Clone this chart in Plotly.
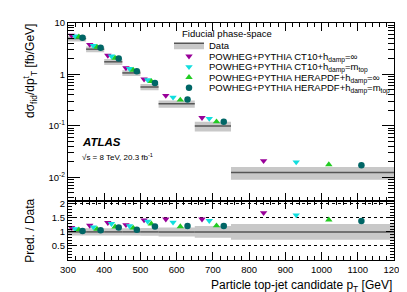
import plotly.graph_objects as go

# ---------------- data ----------------
bin_lo = [300, 350, 400, 450, 500, 550, 650, 750]
bin_hi = [350, 400, 450, 500, 550, 650, 750, 1200]
data = [5.0, 3.1, 1.76, 1.07, 0.57, 0.268, 0.099, 0.0124]
data_unc = [0.13, 0.13, 0.13, 0.13, 0.14, 0.16, 0.21, 0.28]  # relative

ct10_inf = [5.75, 3.81, 2.34, 1.34, 0.81, 0.389, 0.144, 0.0209]
ct10_mtop = [5.55, 3.63, 2.27, 1.29, 0.78, 0.359, 0.139, 0.0198]
hera_inf = [5.40, 3.41, 2.08, 1.22, 0.735, 0.319, 0.121, 0.0177]
hera_mtop = [5.15, 3.29, 2.04, 1.16, 0.68, 0.324, 0.120, 0.0172]

r_ct10_inf = [1.15, 1.23, 1.33, 1.25, 1.42, 1.45, 1.45, 1.68]
r_ct10_mtop = [1.11, 1.17, 1.29, 1.21, 1.37, 1.34, 1.40, 1.60]
r_hera_inf = [1.08, 1.10, 1.18, 1.14, 1.29, 1.19, 1.22, 1.43]
r_hera_mtop = [1.03, 1.06, 1.16, 1.08, 1.19, 1.21, 1.21, 1.39]

x_ticks = [300, 400, 500, 600, 700, 800, 900, 1000, 1100, 1200]
y_ticks = [0.01, 0.1, 1, 10]
y_ticktext = ["10<sup>-2</sup>", "10<sup>-1</sup>", "1", "10"]
r_ticks = [0.5, 1, 1.5, 2]
r_ticktext = ["0.5", "1", "1.5", "2"]

series = [
    ("POWHEG+PYTHIA CT10+h<sub>damp</sub>=∞", ct10_inf, r_ct10_inf, "triangle-down", "#990099", 0.2),
    ("POWHEG+PYTHIA CT10+h<sub>damp</sub>=m<sub>top</sub>", ct10_mtop, r_ct10_mtop, "triangle-down", "#11dede", 0.4),
    ("POWHEG+PYTHIA HERAPDF+h<sub>damp</sub>=∞", hera_inf, r_hera_inf, "triangle-up", "#22cc22", 0.6),
    ("POWHEG+PYTHIA HERAPDF+h<sub>damp</sub>=m<sub>top</sub>", hera_mtop, r_hera_mtop, "circle", "#006666", 0.8),
]

FONT = "Liberation Sans, Arial, sans-serif"
BAND = "#c8c8c8"
LINE = "#555555"

# geometry
W, H = 407, 292
ML, MR, MT, MB = 60, 21, 9, 40
PW, PH = W - ML - MR, H - MT - MB
split = 60.5 / PH


def px(x):
    return (x - ML) / PW


def py(y):
    return (H - MB - y) / PH


def band_xy(vals):
    xs, ys = [], []
    for lo, hi, v, u in zip(bin_lo, bin_hi, vals, data_unc):
        xs += [lo, hi, hi, lo, lo, None]
        ys += [v * (1 - u), v * (1 - u), v * (1 + u), v * (1 + u), v * (1 - u), None]
    return xs, ys


def line_xy(vals):
    xs, ys = [], []
    for lo, hi, v in zip(bin_lo, bin_hi, vals):
        xs += [lo, hi, None]
        ys += [v, v, None]
    return xs, ys


fig = go.Figure()

# upper band + line
bx, by = band_xy(data)
fig.add_trace(go.Scatter(x=bx, y=by, mode="lines", fill="toself", fillcolor=BAND,
                         line=dict(width=0), hoverinfo="skip", showlegend=False,
                         xaxis="x", yaxis="y"))
lx, ly = line_xy(data)
fig.add_trace(go.Scatter(x=lx, y=ly, mode="lines", fill="toself", fillcolor=BAND,
                         line=dict(color=LINE, width=1.5), name="Data",
                         legend="legend", xaxis="x", yaxis="y"))

# lower band + line
ones = [1.0] * len(data)
rbx, rby = band_xy(ones)
fig.add_trace(go.Scatter(x=rbx, y=rby, mode="lines", fill="toself", fillcolor=BAND,
                         line=dict(width=0), hoverinfo="skip", showlegend=False,
                         xaxis="x2", yaxis="y2"))
rlx, rly = line_xy(ones)
fig.add_trace(go.Scatter(x=rlx, y=rly, mode="lines", line=dict(color=LINE, width=1.5),
                         showlegend=False, xaxis="x2", yaxis="y2"))

legend_names = ["legend2", "legend3", "legend4", "legend5"]
for (name, vals, rvals, sym, col, frac), lg in zip(series, legend_names):
    xs = [lo + frac * (hi - lo) for lo, hi in zip(bin_lo, bin_hi)]
    fig.add_trace(go.Scatter(x=xs, y=vals, mode="markers", name=name,
                             marker=dict(symbol=sym, color=col, size=6.5, line=dict(width=0)),
                             legend=lg, xaxis="x", yaxis="y"))
    fig.add_trace(go.Scatter(x=xs, y=rvals, mode="markers", showlegend=False,
                             marker=dict(symbol=sym, color=col, size=6.5, line=dict(width=0)),
                             xaxis="x2", yaxis="y2"))

# legends (one item each to get ROOT-like compact spacing)
leg_y = [31.5, 42.7, 53.5, 64.3, 75.0]
leg_keys = ["legend", "legend2", "legend3", "legend4", "legend5"]
legends = {}
for k, yy in zip(leg_keys, leg_y):
    legends[k] = dict(x=px(161), y=py(yy - 14.5), xanchor="left", yanchor="top",
                      bgcolor="rgba(0,0,0,0)", borderwidth=0,
                      font=dict(family=FONT, size=9.5, color="black"),
                      itemwidth=30, tracegroupgap=0)

axis_common = dict(showline=True, linecolor="black", linewidth=1.2, mirror="allticks",
                   ticks="inside", tickcolor="black", zeroline=False, showgrid=False,
                   tickfont=dict(family=FONT, size=9.5, color="black"))

fig.update_layout(
    width=W, height=H, margin=dict(l=ML, r=MR, t=MT, b=MB),
    paper_bgcolor="white", plot_bgcolor="white",
    font=dict(family=FONT, color="black"),
    xaxis=dict(domain=[0, 1], anchor="y", range=[300, 1200], matches="x2",
               tickvals=x_ticks, showticklabels=False, ticklen=8,
               minor=dict(dtick=20, tick0=300, ticks="inside", ticklen=4, tickcolor="black"),
               **axis_common),
    xaxis2=dict(domain=[0, 1], anchor="y2", range=[300, 1200],
                tickvals=x_ticks, ticklen=8, ticklabeloverflow="allow",
                minor=dict(dtick=20, tick0=300, ticks="inside", ticklen=4, tickcolor="black"),
                **axis_common),
    yaxis=dict(domain=[split, 1], anchor="x", type="log", range=[-2.46, 1],
               tickvals=y_ticks, ticktext=y_ticktext, ticklen=12,
               minor=dict(tickvals=[m * d for d in [0.001, 0.01, 0.1, 1] for m in range(2, 10)],
                          ticks="inside", ticklen=6, tickcolor="black"),
               **axis_common),
    yaxis2=dict(domain=[0, split], anchor="x2", range=[0, 2.1],
                tickvals=r_ticks, ticktext=r_ticktext, ticklen=8,
                minor=dict(dtick=0.1, tick0=0, ticks="inside", ticklen=4, tickcolor="black"),
                **{**axis_common, "showgrid": True},
                gridcolor="black", griddash="dot", gridwidth=1),
    **legends,
)

ann = [
    dict(text="Fiducial phase-space", x=px(172), y=py(20), xanchor="left", yanchor="middle",
         font=dict(size=9.5)),
    dict(text="<b><i>ATLAS</i></b>", x=px(72), y=py(131), xanchor="left", yanchor="middle",
         font=dict(size=11.5)),
    dict(text="√s = 8 TeV, 20.3 fb<sup>-1</sup>", x=px(72), y=py(146), xanchor="left",
         yanchor="middle", font=dict(size=8)),
    dict(text="dσ<sub>fid</sub>/dp<sup>t</sup><sub>T</sub> [fb/GeV]", x=px(22), y=py(8),
         xanchor="center", yanchor="top", textangle=-90, font=dict(size=12)),
    dict(text="Pred. / Data", x=px(22), y=py(222), xanchor="center", yanchor="middle",
         textangle=-90, font=dict(size=12)),
    dict(text="Particle top-jet candidate p<sub>T</sub> [GeV]", x=px(386), y=py(279),
         xanchor="right", yanchor="middle", font=dict(size=12)),
]
for a in ann:
    a.update(xref="paper", yref="paper", showarrow=False)
    a["font"] = dict(family=FONT, color="black", **a["font"])
fig.update_layout(annotations=ann)

fig.write_html("out.html")
